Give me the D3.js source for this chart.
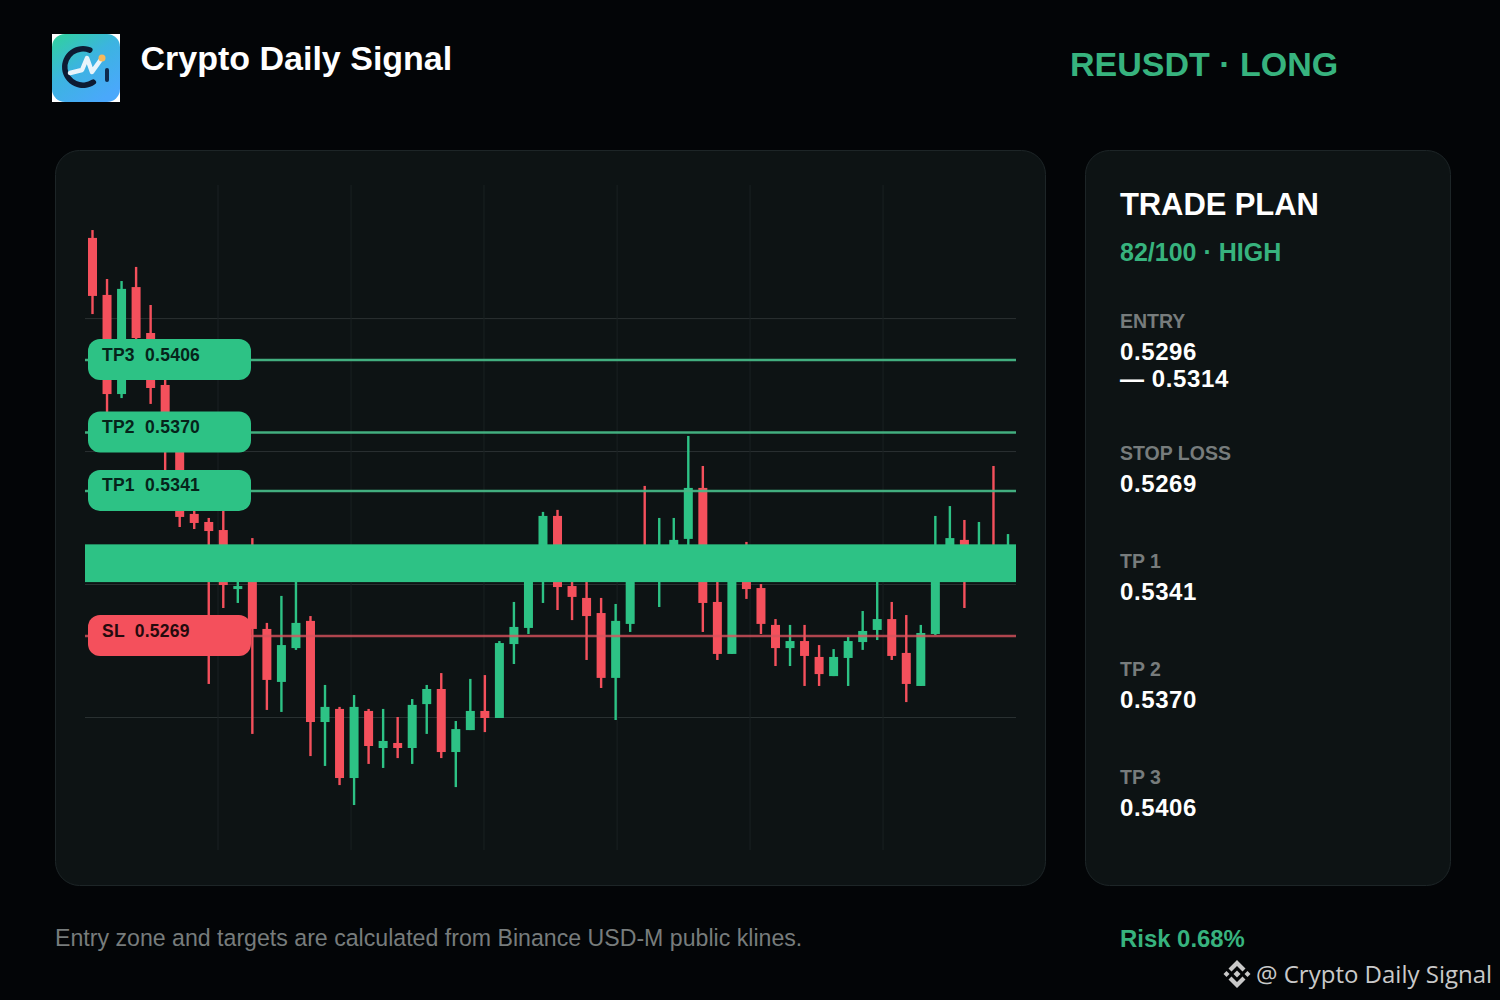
<!DOCTYPE html>
<html>
<head>
<meta charset="utf-8">
<style>
  html, body { margin: 0; padding: 0; background: #030507; }
  svg { display: block; }
  text { font-family: "Liberation Sans", Arial, sans-serif; font-weight: 700; white-space: pre; }
</style>
<script src="https://cdn.jsdelivr.net/npm/d3@7"></script>
</head>
<body>
<div id="chart"></div>
<script>
// candles, hidden parts (behind zone / labels) are guesses
var opens = [.54666,.54383,.53891,.54422,.54194,.53936,.53663,.53296,.53256,.53216,.52923,.53117,.52725,.52462,.52630,.52765,
             .52263,.52328,.51985,.52318,.52134,.52159,.52134,.52352,.52427,.52114,.52223,.52318,.52283,.52650,.52730,.53042,
             .53286,.52938,.52879,.52804,.52482,.52750,.53117,.53018,.53067,.53172,.53425,.52859,.52601,.53067,.52928,.52745,
             .52630,.52665,.52586,.52491,.52581,.52660,.52720,.52774,.52606,.52442,.52700,.53117,.53167,.53067,.53117,.53067];
var highs = [.54705,.54462,.54452,.54522,.54333,.53961,.53737,.53340,.53276,.53365,.53018,.53176,.52755,.52889,.53018,.52789,
             .52447,.52338,.52397,.52328,.52328,.52288,.52377,.52447,.52506,.52268,.52477,.52496,.52665,.52859,.53117,.53306,
             .53316,.52993,.53018,.52879,.52849,.53117,.53435,.53276,.53276,.53683,.53534,.53018,.53067,.53157,.52948,.52774,
             .52745,.52745,.52645,.52625,.52685,.52814,.53018,.52859,.52794,.52745,.53286,.53335,.53266,.53256,.53534,.53196];
var lows = [.54288,.53787,.53871,.54110,.53842,.53464,.53231,.53221,.52452,.52829,.52854,.52204,.52323,.52313,.52621,.52094,
            .52045,.51950,.51851,.52055,.52035,.52084,.52055,.52204,.52084,.51940,.52223,.52213,.52283,.52551,.52700,.52854,
            .52819,.52769,.52571,.52432,.52273,.52710,.52993,.52834,.53018,.53117,.52710,.52571,.52601,.52874,.52700,.52541,
            .52541,.52442,.52442,.52491,.52442,.52621,.52670,.52571,.52362,.52442,.52695,.53067,.52829,.52993,.52993,.52993];
var closes = [.54378,.53891,.54413,.54169,.53921,.53663,.53281,.53251,.53211,.52943,.52938,.52725,.52472,.52645,.52755,.52263,
              .52338,.51985,.52338,.52144,.52169,.52134,.52348,.52427,.52114,.52228,.52318,.52283,.52655,.52735,.53067,.53286,
              .52933,.52884,.52789,.52482,.52765,.53067,.53018,.53067,.53167,.53425,.52854,.52601,.53018,.52923,.52750,.52630,
              .52665,.52591,.52501,.52586,.52665,.52715,.52774,.52591,.52452,.52705,.53018,.53176,.53067,.53117,.53067,.53117];

var entryLow = 0.5296, entryHigh = 0.5314;
var levelNames = ["TP3", "TP2", "TP1", "SL"];
var levelPrices = [0.5406, 0.5370, 0.5341, 0.5269];

var gridPrices = [0.54268, 0.53608, 0.52948, 0.52288];
var gridCandles = [8.637, 17.79, 26.94, 36.10, 45.25, 54.40];

var planLabels = ["ENTRY", "STOP LOSS", "TP 1", "TP 2", "TP 3"];
var planValues = [["0.5296", "— 0.5314"], ["0.5269"], ["0.5341"], ["0.5370"], ["0.5406"]];

var green = "#2dc285", red = "#f4505c", textGreen = "#37b37e", grey = "#777c7c";
var width = 1500, height = 1000;

var svg = d3.select("#chart").append("svg")
    .attr("width", width)
    .attr("height", height);

var defs = svg.append("defs");
var logoGrad = defs.append("linearGradient")
    .attr("id", "logoGrad")
    .attr("x1", "0").attr("y1", "0").attr("x2", "0.7").attr("y2", "1");
logoGrad.append("stop").attr("offset", "0").attr("stop-color", "#2fd39a");
logoGrad.append("stop").attr("offset", "0.5").attr("stop-color", "#3cb4e0");
logoGrad.append("stop").attr("offset", "1").attr("stop-color", "#4aa8fb");

svg.append("rect").attr("width", width).attr("height", height).attr("fill", "#030507");

// logo
var logo = svg.append("g").attr("transform", "translate(52,34)");
logo.append("rect").attr("width", 68).attr("height", 68).attr("fill", "#fff");
logo.append("rect").attr("width", 68).attr("height", 68).attr("rx", 13).attr("fill", "url(#logoGrad)");
logo.append("path")
    .attr("d", d3.arc().cornerRadius(2.5)({innerRadius: 15.5, outerRadius: 21, startAngle: 2.4, endAngle: 6.81}))
    .attr("transform", "translate(31,33)")
    .attr("fill", "#0d1b33");
logo.append("path")
    .attr("d", "M18,39 L30,36 L35,24 L40,38 L50,24")
    .attr("fill", "none").attr("stroke", "#e8f4fb").attr("stroke-width", 4.5)
    .attr("stroke-linecap", "round").attr("stroke-linejoin", "round");
logo.append("circle").attr("cx", 50).attr("cy", 24).attr("r", 3.5).attr("fill", "#f6b95c");
logo.append("rect").attr("x", 53).attr("y", 34).attr("width", 4).attr("height", 14).attr("rx", 2).attr("fill", "#0d2a4e");

svg.append("text").attr("x", 140.5).attr("y", 70)
    .attr("fill", "#fff").style("font-size", "34px").text("Crypto Daily Signal");
svg.append("text").attr("x", 1070).attr("y", 75.5)
    .attr("fill", textGreen).style("font-size", "34px").text("REUSDT · LONG");

// panels
svg.append("rect").attr("x", 55.5).attr("y", 150.5).attr("width", 990).attr("height", 735).attr("rx", 24)
    .attr("fill", "#0d1314").attr("stroke", "#1d2527");
svg.append("rect").attr("x", 1085.5).attr("y", 150.5).attr("width", 365).attr("height", 735).attr("rx", 24)
    .attr("fill", "#0d1314").attr("stroke", "#1d2527");

var x = d3.scaleLinear().domain([0, opens.length - 1]).range([92.5, 1008]);
var y = d3.scaleLinear().domain([0.5269, 0.5406]).range([636, 360]);

var plotLeft = 85, plotRight = 1016, plotTop = 185, plotBottom = 850;

// grid
var yGrid = d3.axisLeft(y).tickValues(gridPrices).tickFormat("").tickSize(-(plotRight - plotLeft));
svg.append("g").attr("class", "y grid")
    .attr("transform", "translate(" + plotLeft + ",0)")
    .call(yGrid)
    .call(function(g){ g.select(".domain").remove(); })
    .selectAll("line").attr("stroke", "#2a3132");

var xGrid = d3.axisBottom(x).tickValues(gridCandles).tickFormat("").tickSize(-(plotBottom - plotTop));
svg.append("g").attr("class", "x grid")
    .attr("transform", "translate(-0.5," + plotBottom + ")")
    .call(xGrid)
    .call(function(g){ g.select(".domain").remove(); })
    .selectAll("line").attr("stroke", "#1a2122");

// candles
var candles = svg.append("g").selectAll("g")
    .data(d3.range(opens.length))
    .enter().append("g")
    .attr("fill", function(i){ return closes[i] >= opens[i] ? green : red; });

candles.append("rect")
    .attr("x", function(i){ return x(i) - 1.2; })
    .attr("width", 2.4)
    .attr("y", function(i){ return y(highs[i]); })
    .attr("height", function(i){ return y(lows[i]) - y(highs[i]); });

candles.append("rect")
    .attr("x", function(i){ return x(i) - 4.5; })
    .attr("width", 9)
    .attr("y", function(i){ return y(Math.max(opens[i], closes[i])); })
    .attr("height", function(i){ return Math.abs(y(opens[i]) - y(closes[i])); });

// entry zone
svg.append("rect")
    .attr("x", plotLeft).attr("width", plotRight - plotLeft)
    .attr("y", y(entryHigh) - 1)
    .attr("height", y(entryLow) - y(entryHigh) + 1.5)
    .attr("fill", green);

// level lines and their tags
levelPrices.forEach(function(price, i){
    var isStop = levelNames[i] === "SL";
    svg.append("line")
        .attr("x1", plotLeft).attr("x2", plotRight)
        .attr("y1", y(price)).attr("y2", y(price))
        .attr("stroke", isStop ? "#d8525c" : "#46b685")
        .attr("stroke-width", 2.4)
        .attr("stroke-opacity", isStop ? 0.8 : 0.95);
    svg.append("rect")
        .attr("x", 88).attr("width", 163)
        .attr("y", y(price) - 21).attr("height", 41).attr("rx", 12)
        .attr("fill", isStop ? red : green);
    svg.append("text")
        .attr("x", 102).attr("y", y(price) + 0.5)
        .attr("fill", isStop ? "#250a0d" : "#06241a")
        .style("font-size", "17.5px").style("letter-spacing", "0.25px")
        .text(levelNames[i] + "  " + price.toFixed(4));
});

// trade plan
svg.append("text").attr("x", 1120).attr("y", 215)
    .attr("fill", "#fff").style("font-size", "31px").style("letter-spacing", "-0.1px").text("TRADE PLAN");
svg.append("text").attr("x", 1120).attr("y", 261)
    .attr("fill", textGreen).style("font-size", "25px").text("82/100 · HIGH");

var planLabelY = [328, 460, 568, 676, 784];
planLabels.forEach(function(label, i){
    svg.append("text").attr("x", 1120).attr("y", planLabelY[i])
        .attr("fill", grey).style("font-size", "19.5px").text(label);
    planValues[i].forEach(function(v, j){
        svg.append("text").attr("x", 1120).attr("y", planLabelY[i] + 32 + j * 27)
            .attr("fill", "#fff").style("font-size", "24px").style("letter-spacing", "0.6px").text(v);
    });
});

// footer
svg.append("text").attr("x", 55).attr("y", 946)
    .attr("fill", grey).style("font-size", "23.15px").style("font-weight", 400)
    .text("Entry zone and targets are calculated from Binance USD-M public klines.");
svg.append("text").attr("x", 1120).attr("y", 947)
    .attr("fill", textGreen).style("font-size", "23.9px").text("Risk 0.68%");

// watermark
var mark = svg.append("g").attr("transform", "translate(1237,974)").attr("fill", "#c9c9c9");
mark.append("path").attr("d", "M0,-14 L8.5,-5.5 L5.5,-2.5 L0,-8 L-5.5,-2.5 L-8.5,-5.5 Z");
mark.append("path").attr("d", "M0,14 L8.5,5.5 L5.5,2.5 L0,8 L-5.5,2.5 L-8.5,5.5 Z");
mark.append("path").attr("d", "M0,-3.5 L3.5,0 L0,3.5 L-3.5,0 Z");
mark.append("path").attr("d", "M-10.5,-3 L-7.5,0 L-10.5,3 L-13.5,0 Z");
mark.append("path").attr("d", "M10.5,-3 L13.5,0 L10.5,3 L7.5,0 Z");
svg.append("text").attr("x", 1256).attr("y", 983)
    .attr("fill", "#c9c9c9")
    .style("font-family", '"Open Sans", sans-serif').style("font-weight", 400).style("font-size", "24px")
    .text("@ Crypto Daily Signal");
</script>
</body>
</html>
